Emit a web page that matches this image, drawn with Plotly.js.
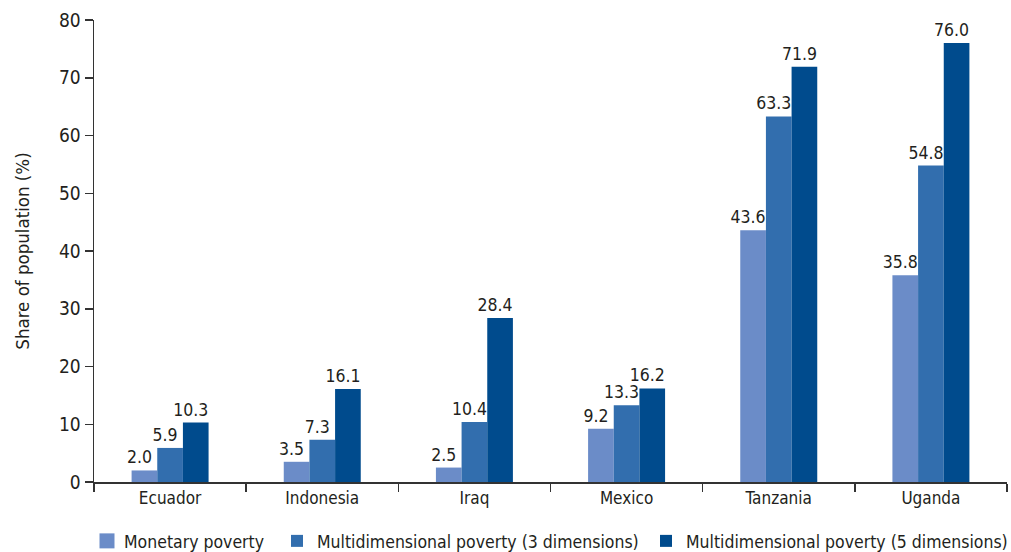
<!DOCTYPE html>
<html>
<head>
<meta charset="utf-8">
<script src="https://cdn.plot.ly/plotly-3.0.1.min.js"></script>
<style>html,body{margin:0;padding:0;background:#fff;}#chart{width:1011px;height:552px;}</style>
</head>
<body>
<div id="chart"></div>
<script>
const categories = ["Ecuador", "Indonesia", "Iraq", "Mexico", "Tanzania", "Uganda"];
const monetary = [2.0, 3.5, 2.5, 9.2, 43.6, 35.8];
const multi3 = [5.9, 7.3, 10.4, 13.3, 63.3, 54.8];
const multi5 = [10.3, 16.1, 28.4, 16.2, 71.9, 76.0];
const seriesNames = ["Monetary poverty", "Multidimensional poverty (3 dimensions)", "Multidimensional poverty (5 dimensions)"];
const yTicks = [0, 10, 20, 30, 40, 50, 60, 70, 80];

const FONT = "DejaVu Sans Condensed, Liberation Sans Narrow, Roboto, sans-serif";
const colors = ["#6b8cc8", "#326eae", "#004b8d"];
const legendIds = ["legend", "legend2", "legend3"];
const data = [monetary, multi3, multi5].map((vals, i) => ({
  type: "bar",
  name: seriesNames[i],
  legend: legendIds[i],
  x: categories,
  y: vals,
  marker: {color: colors[i], line: {width: 0}},
  text: vals.map(v => v.toFixed(1) + "\u00a0\u00a0"),
  textposition: "outside",
  constraintext: "none",
  textangle: 0,
  cliponaxis: false,
  textfont: {family: FONT, size: 17.5, color: "#231f20"},
  hoverinfo: "x+y"
}));

function legendAt(px) {
  return {orientation: "h", x: px / 1011, xanchor: "left", xref: "container",
          y: 11 / 552, yanchor: "middle", yref: "container",
          font: {family: FONT, size: 17.5, color: "#231f20"}, itemclick: false,
          bgcolor: "rgba(0,0,0,0)"};
}

const layout = {
  width: 1011, height: 552,
  margin: {l: 94, r: 4, t: 20, b: 70},
  paper_bgcolor: "#fff", plot_bgcolor: "#fff",
  barmode: "group",
  bargap: 0.494,
  bargroupgap: 0,
  font: {family: FONT, size: 19, color: "#231f20"},
  showlegend: true,
  legend: legendAt(84),
  legend2: legendAt(277),
  legend3: legendAt(646),
  xaxis: {
    showline: true, linecolor: "#333", linewidth: 1.5,
    ticks: "outside", tickson: "boundaries", ticklen: 8, tickcolor: "#333", tickwidth: 1.5,
    tickfont: {family: FONT, size: 17, color: "#231f20"},
    showgrid: false, zeroline: false, fixedrange: true, automargin: false
  },
  yaxis: {
    range: [0, 80], tickvals: yTicks, ticktext: yTicks.map(String),
    showline: true, linecolor: "#333", linewidth: 1.5,
    ticks: "outside", ticklen: 8, tickcolor: "#333", tickwidth: 1.5,
    tickfont: {family: FONT, size: 19, color: "#231f20"},
    showgrid: false, zeroline: false, fixedrange: true, automargin: false,
    title: {text: "Share of population (%)", font: {family: FONT, size: 18.5, color: "#231f20"}, standoff: 24}
  }
};

function fixLegendSymbols() {
  document.querySelectorAll("#chart .legend .traces").forEach(tr => {
    const txt = tr.querySelector("text.legendtext");
    const path = tr.querySelector(".legendpoints path");
    if (!txt || !path) return;
    path.removeAttribute("transform");
    const tb = txt.getBoundingClientRect();
    const pb = path.getBoundingClientRect();
    const pcx = pb.left + pb.width / 2;
    const desired = tb.left - 17;
    path.setAttribute("transform", "translate(" + (desired - pcx) + ",0) scale(1.25)");
  });
}

const gd = document.getElementById("chart");
Plotly.newPlot(gd, data, layout, {displayModeBar: false, staticPlot: true}).then(() => {
  fixLegendSymbols();
  gd.on && gd.on("plotly_afterplot", fixLegendSymbols);
  setTimeout(fixLegendSymbols, 50);
});
</script>
</body>
</html>
